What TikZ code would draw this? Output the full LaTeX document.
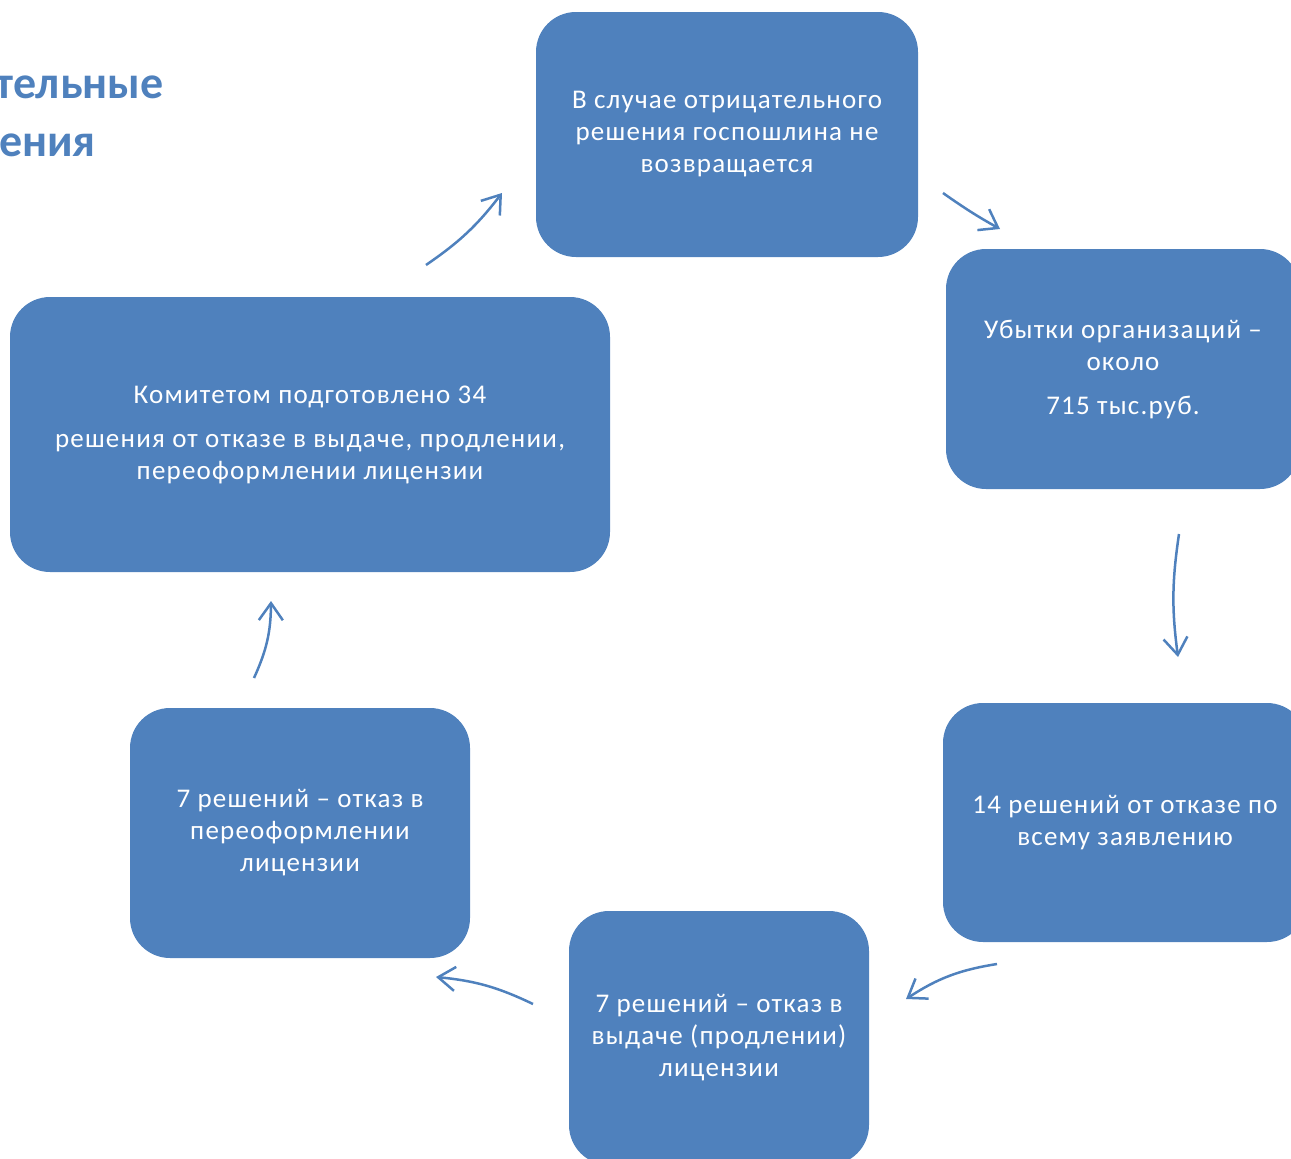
\documentclass[tikz,border=0pt]{standalone}
\usepackage{fontspec}
\setmainfont{Carlito}
\newfontfamily\boxfont[LetterSpace=4.5]{Carlito}
\usetikzlibrary{positioning, arrows.meta}
\definecolor{boxblue}{RGB}{79,129,189}

\begin{document}
\begin{tikzpicture}[x=1pt, y=-1pt,
    box/.style={fill=boxblue, rounded corners=40pt, inner sep=0pt, align=center, text=white, font=\boxfont\fontsize{27}{32}\selectfont},
    cyc/.style={draw=boxblue, line width=2.5pt, -{Straight Barb[length=17pt, width=24pt]}},
    heading/.style={text=boxblue, font=\bfseries\fontsize{46}{56}\selectfont, anchor=base east, inner sep=0pt}]
    \useasboundingbox (0,0) rectangle (1291,1159);
    \clip (0,0) rectangle (1291,1159);

    \node[heading] (head_1) at (164,98) {тельные};
    \node[heading] (head_2) at (96,156) {ения};

    \node[box, minimum width=382pt, minimum height=245pt] (poshlina) at (727,134.5) {В случае отрицательного\\ решения госпошлина не\\ возвращается};
    \node[box, minimum width=354pt, minimum height=240pt] (ubytki) at (1123,369) {Убытки организаций –\\ около\\[12pt] 715 тыс.руб.};
    \node[box, minimum width=364pt, minimum height=239pt] (zayavl) at (1125,822.5) {14 решений от отказе по\\ всему заявлению};
    \node[box, minimum width=300pt, minimum height=254pt] (vydacha) at (719,1038) {7 решений – отказ в\\ выдаче (продлении)\\ лицензии};
    \node[box, minimum width=340pt, minimum height=250pt] (pereoform) at (300,833) {7 решений – отказ в\\ переоформлении\\ лицензии};
    \node[box, minimum width=600pt, minimum height=275pt] (komitet) at (310,434.5) {Комитетом подготовлено 34\\[12pt] решения от отказе в выдаче, продлении,\\ переоформлении лицензии};

    % arrow ends
    \coordinate (a1) at (426,265);  \coordinate (b1) at (502,193);
    \coordinate (a2) at (943,193);  \coordinate (b2) at (1000,229);
    \coordinate (a3) at (1179,534); \coordinate (b3) at (1178,657);
    \coordinate (a4) at (997,964);  \coordinate (b4) at (906,999);
    \coordinate (a5) at (533,1004); \coordinate (b5) at (436,977);
    \coordinate (a6) at (254,678);  \coordinate (b6) at (271,601);

    \draw[cyc] (a1) to[bend right=9] (b1);
    \draw[cyc] (a2) to[bend right=3] (b2);
    \draw[cyc] (a3) to[bend right=8] (b3);
    \draw[cyc] (a4) to[bend right=12] (b4);
    \draw[cyc] (a5) to[bend right=10] (b5);
    \draw[cyc] (a6) to[bend right=12] (b6);
\end{tikzpicture}
\end{document}
